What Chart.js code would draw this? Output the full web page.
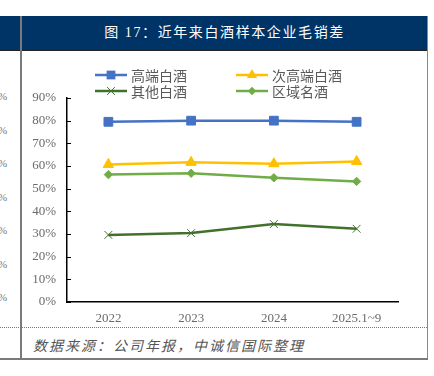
<!DOCTYPE html>
<html><head><meta charset="utf-8">
<script src="https://cdn.jsdelivr.net/npm/chart.js@4/dist/chart.umd.min.js"></script>
<style>
html,body{margin:0;padding:0;background:#fff;width:434px;height:376px;overflow:hidden;}
#hdr{position:absolute;left:0;top:16px;width:428px;height:34px;background:#003366;border-bottom:1.5px solid #222;}
#title{position:absolute;left:22px;top:16px;width:405px;height:34px;line-height:34px;text-align:center;color:#fff;font-family:"Liberation Serif","Noto Sans CJK SC",serif;font-size:14px;letter-spacing:1.6px;}
#vline{position:absolute;left:20px;top:16px;width:2px;height:344px;background:#7a7a7a;}
#rline{position:absolute;left:427px;top:16px;width:1px;height:344px;background:#8a8a8a;}
#bline{position:absolute;left:0;top:358px;width:428px;height:1.5px;background:#7a7a7a;}
#dline{position:absolute;left:0;top:327px;width:427px;height:0;border-top:1px dotted #777;}
#src{position:absolute;left:33px;top:335px;font-family:"Noto Sans CJK SC",sans-serif;font-style:italic;font-size:14px;letter-spacing:2px;color:#555;}
.pct{position:absolute;left:-2px;font-family:"Liberation Serif",serif;font-size:11px;color:#777;}
#wrap{position:absolute;left:22px;top:51px;width:405px;height:276px;}
</style></head><body>
<div id="hdr"></div>
<div id="title">图 17：近年来白酒样本企业毛销差</div>
<div id="vline"></div><div id="rline"></div><div id="bline"></div><div id="dline"></div>
<div id="src">数据来源：公司年报，中诚信国际整理</div>
<div class="pct" style="top:90px">%</div>
<div class="pct" style="top:124px">%</div>
<div class="pct" style="top:157px">%</div>
<div class="pct" style="top:191px">%</div>
<div class="pct" style="top:224px">%</div>
<div class="pct" style="top:258px">%</div>
<div class="pct" style="top:291px">%</div>
<div id="wrap"><canvas id="c"></canvas></div>
<script>
const categories = ["2022", "2023", "2024", "2025.1~9"];
const seriesNames = ["高端白酒", "次高端白酒", "其他白酒", "区域名酒"];
const highEnd = [79.5, 80.0, 80.0, 79.5];
const subHighEnd = [60.7, 61.6, 61.0, 62.0];
const others = [29.6, 30.4, 34.4, 32.3];
const regional = [56.2, 56.8, 54.8, 53.2];
const yTicks = [0, 10, 20, 30, 40, 50, 60, 70, 80, 90];

const colors = ["#4472C4", "#FFC000", "#41712C", "#70AD47"];
const styles = ["rect", "triangle", "crossRot", "rectRot"];
const radii = [6.2, 6, 5.5, 4.2];
const values = [highEnd, subHighEnd, others, regional];

const datasets = values.map((v, i) => ({
  label: seriesNames[i], data: v,
  borderColor: colors[i], backgroundColor: colors[i],
  borderWidth: 2.5, pointStyle: styles[i], pointRadius: radii[i], pointHoverRadius: radii[i],
  pointBorderWidth: 1, pointBackgroundColor: colors[i], pointBorderColor: colors[i],
  tension: 0
}));

const legendPos = [[73, 24], [214, 24], [73, 40], [214, 40]];

const innerTicks = {
  id: 'innerTicks',
  afterDraw(chart) {
    const ctx = chart.ctx, y = chart.scales.y, x = chart.scales.x;
    ctx.save();
    ctx.strokeStyle = '#000'; ctx.lineWidth = 1;
    yTicks.forEach(t => {
      const py = Math.round(y.getPixelForValue(t)) + 0.5;
      ctx.beginPath(); ctx.moveTo(x.left, py); ctx.lineTo(x.left + 4, py); ctx.stroke();
    });
    ctx.font = '14px "Noto Sans CJK SC", sans-serif';
    ctx.textBaseline = 'middle';
    chart.data.datasets.forEach((ds, i) => {
      const [lx, ly] = legendPos[i];
      ctx.strokeStyle = ds.borderColor; ctx.lineWidth = 2.5;
      ctx.beginPath(); ctx.moveTo(lx, ly); ctx.lineTo(lx + 32, ly); ctx.stroke();
      const cx = lx + 16, r = ds.pointRadius;
      ctx.fillStyle = ds.backgroundColor; ctx.lineWidth = 1;
      ctx.beginPath();
      if (ds.pointStyle === 'rect') {
        const s = r * Math.SQRT1_2; ctx.rect(cx - s, ly - s, 2 * s, 2 * s); ctx.fill();
      } else if (ds.pointStyle === 'triangle') {
        ctx.moveTo(cx, ly - r); ctx.lineTo(cx + r * 0.866, ly + r * 0.5); ctx.lineTo(cx - r * 0.866, ly + r * 0.5); ctx.closePath(); ctx.fill();
      } else if (ds.pointStyle === 'rectRot') {
        ctx.moveTo(cx, ly - r); ctx.lineTo(cx + r, ly); ctx.lineTo(cx, ly + r); ctx.lineTo(cx - r, ly); ctx.closePath(); ctx.fill();
      } else {
        const s = r * Math.SQRT1_2;
        ctx.moveTo(cx - s, ly - s); ctx.lineTo(cx + s, ly + s); ctx.moveTo(cx + s, ly - s); ctx.lineTo(cx - s, ly + s); ctx.stroke();
      }
      ctx.fillStyle = '#595959';
      ctx.fillText(ds.label, lx + 36, ly + 1);
    });
    ctx.restore();
  }
};

new Chart(document.getElementById('c'), {
  type: 'line',
  data: { labels: categories, datasets },
  options: {
    responsive: true, maintainAspectRatio: false, animation: false,
    layout: { padding: { left: 0, top: 47, right: 29, bottom: 0 } },
    plugins: { legend: { display: false }, tooltip: { enabled: false } },
    scales: {
      x: {
        offset: true,
        grid: { display: false, drawTicks: false },
        border: { display: true, color: '#000', width: 1.5 },
        ticks: { padding: 9, color: '#6b6b6b', font: { family: '"Liberation Serif", serif', size: 13 } },
        afterFit(s) { s.height = 25; }
      },
      y: {
        min: 0, max: 90,
        afterBuildTicks(s) { s.ticks = yTicks.map(v => ({ value: v })); },
        grid: { display: false, drawTicks: false },
        border: { display: true, color: '#000', width: 1.5 },
        ticks: { padding: 11, color: '#6b6b6b', font: { family: '"Liberation Serif", serif', size: 13 }, callback: v => v + '%' },
        afterFit(s) { s.width = 45; }
      }
    }
  },
  plugins: [innerTicks]
});
</script>
</body></html>
